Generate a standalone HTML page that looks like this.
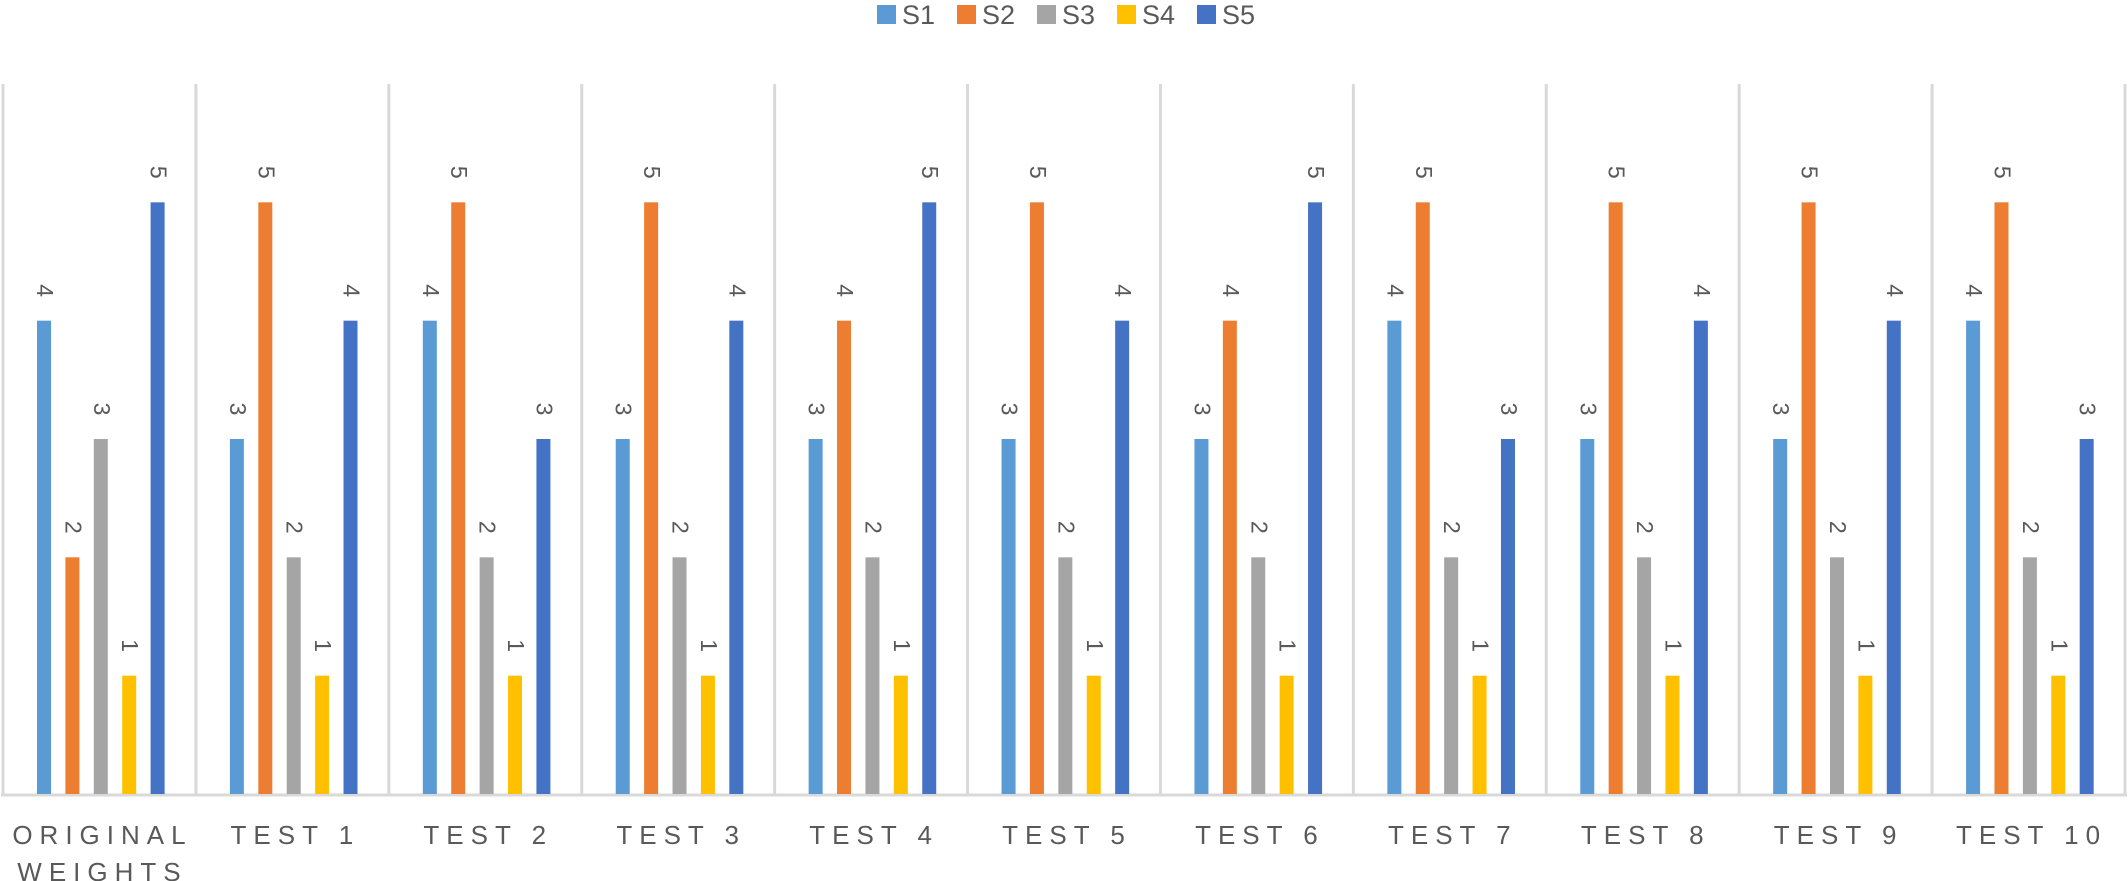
<!DOCTYPE html>
<html><head><meta charset="utf-8"><style>
html,body{margin:0;padding:0;background:#fff;width:2128px;height:881px;overflow:hidden}
svg{display:block;font-family:"Liberation Sans",sans-serif}
</style></head><body>
<svg id="chart" width="2128" height="881"></svg>
<script>
const categories=["ORIGINAL|WEIGHTS","TEST 1","TEST 2","TEST 3","TEST 4","TEST 5","TEST 6","TEST 7","TEST 8","TEST 9","TEST 10"];
const seriesNames=["S1","S2","S3","S4","S5"];
const s1=[4,3,4,3,3,3,3,4,3,3,4];
const s2=[2,5,5,5,4,5,4,5,5,5,5];
const s3=[3,2,2,2,2,2,2,2,2,2,2];
const s4=[1,1,1,1,1,1,1,1,1,1,1];
const s5=[5,4,3,4,5,4,5,3,4,4,3];
const series=[s1,s2,s3,s4,s5];
const colors=["#5B9BD5","#ED7D31","#A5A5A5","#FFC000","#4472C4"];
const NS="http://www.w3.org/2000/svg";
const svgEl=document.getElementById('chart');
const plotLeft=3,plotRight=2125,plotTop=84,plotBase=794,yMax=6;
const gw=(plotRight-plotLeft)/categories.length;
const yScale=v=>plotBase-(plotBase-plotTop)*v/yMax;
const gx=i=>plotLeft+i*gw;
const barStep=28.4,barW=14,barOff=34;
function mk(t,a){const e=document.createElementNS(NS,t);for(const k in a)e.setAttribute(k,a[k]);svgEl.appendChild(e);return e;}
for(let i=0;i<=categories.length;i++){
  const l=mk('line',{x1:gx(i),x2:gx(i),y1:plotTop,y2:plotBase,stroke:'#D9D9D9','stroke-width':3});
  
  
}
const ax=mk('line',{x1:plotLeft-2,x2:plotRight+2,y1:plotBase+1,y2:plotBase+1,stroke:'#D9D9D9','stroke-width':3});


categories.forEach((c,i)=>{
  series.forEach((s,j)=>{
    const x=gx(i)+barOff+j*barStep;
    const r=mk('rect',{x:x,y:yScale(s[i]),width:barW,height:plotBase-yScale(s[i]),fill:colors[j]});
    
    
    const cx=x+barW/2+1, cy=yScale(s[i])-30;
    const t=mk('text',{x:cx,y:cy,fill:'#595959','font-size':23,'text-anchor':'middle','dominant-baseline':'central',transform:`rotate(90 ${cx} ${cy})`});
    t.textContent=s[i];
    
    
  });
  const lines=c.split('|');
  lines.forEach((ln,k)=>{
    const t=mk('text',{x:gx(i)+gw/2+3,y:844+k*37,fill:'#595959','font-size':26,'text-anchor':'middle','letter-spacing':7});
    t.textContent=ln;
    
    
  });
});
seriesNames.forEach((n,j)=>{
  const x=877+j*80;
  const r=mk('rect',{x:x,y:5,width:19,height:19,fill:colors[j]});
  
  
  const t=mk('text',{x:x+25,y:24,fill:'#595959','font-size':27});
  t.textContent=n;
  
  
});
</script>
</body></html>
